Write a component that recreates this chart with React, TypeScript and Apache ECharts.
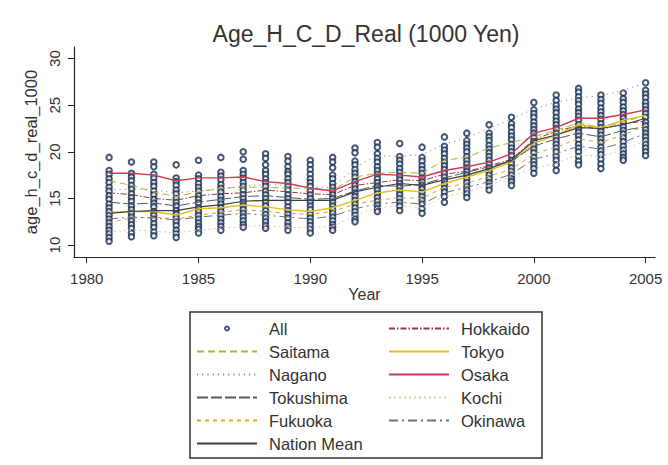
import React, { useEffect, useRef } from "react";
import * as echarts from "echarts";

const years = [1981, 1982, 1983, 1984, 1985, 1986, 1987, 1988, 1989, 1990, 1991, 1992, 1993, 1994, 1995, 1996, 1997, 1998, 1999, 2000, 2001, 2002, 2003, 2004, 2005];

// "All" prefecture values per year (same order as years)
const allValues: number[][] = [
  [19.4, 18.0, 17.6, 17.1, 16.7, 16.2, 15.8, 15.3, 14.9, 14.4, 14.0, 13.6, 13.2, 12.8, 12.4, 12.0, 11.6, 11.2, 10.8, 10.4],
  [18.9, 17.7, 17.3, 16.9, 16.4, 16.0, 15.5, 15.1, 14.7, 14.2, 13.8, 13.4, 13.0, 12.6, 12.2, 11.8, 11.3, 10.9],
  [18.9, 18.4, 17.6, 17.2, 16.7, 16.3, 15.8, 15.4, 14.9, 14.5, 14.1, 13.6, 13.2, 12.8, 12.3, 11.9, 11.4, 11.0],
  [18.6, 17.2, 16.8, 16.4, 15.9, 15.5, 15.0, 14.6, 14.2, 13.7, 13.3, 12.9, 12.5, 12.1, 11.6, 11.2, 10.8],
  [19.1, 17.5, 17.1, 16.6, 16.2, 15.8, 15.3, 14.9, 14.5, 14.0, 13.6, 13.2, 12.8, 12.4, 12.0, 11.7, 11.3],
  [19.4, 17.8, 17.4, 17.0, 16.5, 16.1, 15.7, 15.2, 14.8, 14.4, 14.0, 13.6, 13.2, 12.8, 12.4, 12.0, 11.6],
  [20.0, 19.2, 18.0, 17.6, 17.2, 16.7, 16.3, 15.9, 15.4, 15.0, 14.6, 14.2, 13.8, 13.4, 13.0, 12.6, 12.2, 11.9],
  [19.8, 19.3, 18.6, 18.0, 17.6, 17.1, 16.7, 16.3, 15.8, 15.4, 15.0, 14.6, 14.2, 13.7, 13.3, 12.9, 12.5, 12.1, 11.8],
  [19.5, 19.0, 18.4, 17.9, 17.6, 17.1, 16.7, 16.3, 15.9, 15.4, 15.0, 14.6, 14.1, 13.7, 13.3, 12.9, 12.4, 12.0, 11.6],
  [19.1, 18.6, 18.1, 17.6, 17.1, 16.7, 16.3, 15.8, 15.4, 15.0, 14.6, 14.2, 13.8, 13.3, 12.9, 12.5, 12.1, 11.7, 11.3],
  [19.4, 18.9, 18.3, 17.5, 17.1, 16.6, 16.2, 15.8, 15.4, 15.0, 14.6, 14.2, 13.8, 13.4, 13.0, 12.6, 12.2, 11.9, 11.6],
  [20.4, 19.9, 19.0, 18.6, 18.1, 17.7, 17.3, 16.8, 16.4, 16.0, 15.6, 15.2, 14.8, 14.4, 14.0, 13.6, 13.2, 12.8, 12.5],
  [21.0, 20.5, 19.8, 19.3, 18.9, 18.4, 18.0, 17.6, 17.1, 16.7, 16.3, 15.9, 15.5, 15.1, 14.7, 14.3, 13.9, 13.6],
  [20.9, 19.5, 19.1, 18.7, 18.2, 17.8, 17.4, 17.0, 16.6, 16.2, 15.8, 15.4, 15.0, 14.6, 14.2, 13.7],
  [20.5, 19.4, 19.0, 18.5, 18.1, 17.7, 17.2, 16.8, 16.4, 16.0, 15.6, 15.2, 14.8, 14.4, 13.9, 13.4],
  [21.6, 20.6, 20.2, 19.8, 19.3, 18.9, 18.5, 18.1, 17.7, 17.3, 16.9, 16.5, 16.1, 15.7, 15.2, 14.6],
  [22.0, 21.2, 20.8, 20.4, 20.0, 19.5, 19.1, 18.7, 18.3, 17.9, 17.5, 17.1, 16.7, 16.3, 15.9, 15.5, 15.1],
  [22.9, 22.0, 21.6, 21.2, 20.7, 20.3, 19.9, 19.5, 19.1, 18.7, 18.3, 17.9, 17.5, 17.1, 16.7, 16.3, 15.9],
  [23.7, 23.0, 22.6, 22.1, 21.7, 21.3, 20.8, 20.4, 20.0, 19.6, 19.1, 18.7, 18.3, 17.9, 17.5, 17.1, 16.8, 16.4],
  [25.3, 24.5, 24.1, 23.7, 23.2, 22.8, 22.4, 22.0, 21.5, 21.1, 20.7, 20.3, 19.9, 19.4, 19.0, 18.6, 18.2, 17.7],
  [26.1, 25.5, 25.0, 24.6, 24.2, 23.7, 23.3, 22.9, 22.5, 22.0, 21.6, 21.2, 20.8, 20.4, 20.0, 19.5, 19.1, 18.6, 18.0],
  [26.8, 26.4, 25.9, 25.5, 25.1, 24.6, 24.2, 23.8, 23.4, 22.9, 22.5, 22.1, 21.7, 21.3, 20.8, 20.4, 20.0, 19.5, 19.0, 18.6],
  [26.1, 25.6, 25.2, 24.7, 24.3, 23.9, 23.5, 23.0, 22.6, 22.2, 21.8, 21.4, 21.0, 20.5, 20.1, 19.7, 19.2, 18.7, 18.2],
  [26.3, 25.7, 25.3, 24.8, 24.4, 24.0, 23.6, 23.2, 22.7, 22.3, 21.9, 21.5, 21.1, 20.6, 20.2, 19.8, 19.4, 19.1],
  [27.4, 26.6, 26.2, 25.8, 25.3, 24.9, 24.5, 24.1, 23.7, 23.2, 22.8, 22.4, 22.0, 21.6, 21.2, 20.8, 20.4, 20.0, 19.6],
];

const hokkaido = [15.6, 15.4, 15.0, 14.8, 15.3, 15.5, 15.6, 15.9, 15.7, 15.5, 15.4, 16.4, 16.7, 17.0, 16.9, 17.6, 17.9, 18.5, 19.2, 21.3, 22.2, 22.8, 22.4, 23.0, 23.3];
const saitama = [16.9, 16.4, 15.7, 15.2, 15.7, 16.1, 16.2, 16.2, 16.1, 16.1, 15.9, 17.3, 17.7, 17.8, 17.7, 19.1, 19.4, 20.4, 21.0, 21.6, 22.3, 23.1, 22.6, 23.2, 23.9];
const tokyo = [13.5, 13.6, 13.6, 13.2, 13.9, 14.0, 14.3, 14.1, 13.8, 13.6, 14.0, 14.8, 15.6, 15.9, 15.7, 16.6, 17.3, 18.0, 18.9, 20.9, 21.8, 22.9, 22.6, 23.4, 23.9];
const nagano = [15.9, 16.0, 15.9, 15.6, 15.8, 16.0, 16.3, 16.5, 16.4, 16.2, 16.2, 18.3, 19.6, 19.5, 19.7, 20.8, 21.5, 22.5, 23.5, 24.6, 25.3, 25.8, 26.0, 26.6, 27.4];
const osaka = [17.7, 17.7, 17.5, 16.9, 17.2, 17.2, 17.3, 16.8, 16.6, 16.1, 15.8, 16.8, 17.6, 17.5, 17.3, 18.0, 18.4, 18.9, 19.8, 22.0, 22.6, 23.6, 23.6, 24.0, 24.5];
const tokushima = [14.6, 14.4, 14.5, 14.2, 14.6, 14.9, 15.2, 15.3, 15.1, 14.9, 15.0, 15.8, 16.4, 16.3, 16.5, 17.2, 17.8, 18.4, 19.0, 20.6, 21.4, 22.0, 21.6, 22.3, 22.7];
const kochi = [11.4, 11.6, 11.5, 11.3, 11.6, 11.8, 12.0, 12.1, 11.9, 11.9, 12.0, 13.2, 14.0, 14.2, 14.0, 15.2, 15.7, 16.4, 17.4, 18.2, 18.8, 19.7, 19.5, 20.2, 21.2];
const fukuoka = [12.4, 12.9, 13.0, 12.8, 13.2, 13.5, 13.8, 13.6, 13.4, 13.3, 13.6, 14.4, 14.8, 15.1, 15.0, 16.2, 16.6, 17.4, 18.1, 19.8, 20.5, 21.4, 21.0, 21.8, 22.8];
const okinawa = [12.8, 13.0, 12.9, 12.7, 13.0, 13.2, 13.4, 13.2, 13.0, 12.8, 13.1, 13.9, 14.4, 14.6, 14.4, 15.6, 16.2, 16.8, 17.6, 19.2, 19.8, 20.6, 20.3, 21.0, 22.0];
const nationMean = [13.4, 13.6, 13.7, 13.7, 14.1, 14.3, 14.7, 14.8, 14.8, 14.8, 14.8, 15.7, 16.2, 16.6, 16.4, 17.0, 17.5, 18.2, 19.1, 21.2, 21.8, 22.6, 22.5, 22.9, 23.6];

const xTicks = [1980, 1985, 1990, 1995, 2000, 2005];
const yTicks = [10, 15, 20, 25, 30];

const FONT = "Liberation Sans, Arial, sans-serif";

type LineDef = { name: string; values: number[]; color: string; dash: any; width?: number };

const lineDefs: LineDef[] = [
  { name: "Hokkaido", values: hokkaido, color: "#8e3b3e", dash: [6, 2, 1.5, 2] },
  { name: "Saitama", values: saitama, color: "#a9b82a", dash: [7, 4] },
  { name: "Tokyo", values: tokyo, color: "#e6bd1e", dash: "solid", width: 1.4 },
  { name: "Nagano", values: nagano, color: "#8a8a8a", dash: [1.2, 4] },
  { name: "Osaka", values: osaka, color: "#cc3a55", dash: "solid", width: 1.4 },
  { name: "Tokushima", values: tokushima, color: "#555b60", dash: [11, 3] },
  { name: "Kochi", values: kochi, color: "#d9cf9c", dash: [2, 3] },
  { name: "Fukuoka", values: fukuoka, color: "#d8a42a", dash: [4, 4] },
  { name: "Okinawa", values: okinawa, color: "#6f7378", dash: [9, 4, 2, 4] },
  { name: "Nation Mean", values: nationMean, color: "#3a3f45", dash: "solid", width: 1.2 },
];

export default function App() {
  const ref = useRef<HTMLDivElement>(null);
  useEffect(() => {
    if (!ref.current) return;
    const chart = echarts.init(ref.current, undefined, { renderer: "svg" });
    const scatterData: number[][] = [];
    years.forEach((yr, i) => allValues[i].forEach((v) => scatterData.push([yr, v])));

    const lineSeries = lineDefs.map((d) => ({
      name: d.name,
      type: "line",
      data: years.map((yr, i) => [yr, d.values[i]]),
      symbol: "none",
      lineStyle: { color: d.color, width: d.width ?? 1, type: d.dash },
      itemStyle: { color: d.color },
      z: 3,
    }));

    const legendBase = {
      orient: "vertical",
      itemWidth: 60,
      itemHeight: 14,
      itemGap: 6,
      padding: 0,
      textStyle: { fontFamily: FONT, fontSize: 16.5, color: "#333", lineHeight: 17, padding: [0, 0, 0, 7] },
      selectedMode: false,
    };
    const lineLegend = { ...legendBase, itemStyle: { opacity: 0, borderWidth: 0 } };

    chart.setOption({
      animation: false,
      backgroundColor: "#ffffff",
      title: {
        text: "Age_H_C_D_Real (1000 Yen)",
        left: 361,
        textAlign: "center",
        top: 17,
        textStyle: { fontFamily: FONT, fontSize: 23, fontWeight: "normal", color: "#333" },
      },
      grid: { left: 74, right: 13, top: 47, bottom: 208, containLabel: false },
      xAxis: {
        type: "value",
        min: 1979.43,
        max: 2005.42,
        name: "Year",
        nameLocation: "middle",
        nameGap: 27,
        nameTextStyle: { fontFamily: FONT, fontSize: 16, color: "#333" },
        axisLine: { lineStyle: { color: "#222", width: 1.2 } },
        axisTick: { show: true, length: 6, customValues: xTicks, lineStyle: { color: "#222" } },
        axisLabel: {
          customValues: xTicks,
          margin: 14,
          fontFamily: FONT,
          fontSize: 15,
          color: "#333",
          formatter: (v: number) => String(v),
        },
        splitLine: { show: false },
      },
      yAxis: {
        type: "value",
        min: 8.72,
        max: 31.24,
        name: "age_h_c_d_real_1000",
        nameLocation: "middle",
        nameGap: 31,
        nameTextStyle: { fontFamily: FONT, fontSize: 16.5, color: "#333" },
        axisLine: { show: true, lineStyle: { color: "#222", width: 1.2 } },
        axisTick: { show: true, length: 6, customValues: yTicks, lineStyle: { color: "#222" } },
        axisLabel: {
          customValues: yTicks,
          rotate: 90,
          margin: 12,
          fontFamily: FONT,
          fontSize: 15,
          color: "#333",
          formatter: (v: number) => String(v),
        },
        splitLine: { show: false },
      },
      legend: [
        { ...legendBase, left: 224, top: 320, itemHeight: 4, data: ["All"] },
        { ...lineLegend, left: 196, top: 343, data: ["Saitama", "Nagano", "Tokushima", "Fukuoka", "Nation Mean"] },
        { ...lineLegend, left: 388, top: 320, data: ["Hokkaido", "Tokyo", "Osaka", "Kochi", "Okinawa"] },
      ],
      graphic: [
        {
          type: "rect",
          shape: { x: 190, y: 312, width: 352, height: 146 },
          style: { fill: "none", stroke: "#333", lineWidth: 1.5 },
        },
      ],
      series: [
        {
          name: "All",
          type: "scatter",
          data: scatterData,
          symbol: "emptyCircle",
          symbolSize: 5.5,
          itemStyle: { color: "#162d52", borderColor: "#162d52", borderWidth: 1.4 },
          z: 2,
        },
        ...lineSeries,
      ],
    });
    return () => chart.dispose();
  }, []);
  return <div ref={ref} style={{ position: "fixed", left: 0, top: 0, width: 668, height: 465 }} />;
}
